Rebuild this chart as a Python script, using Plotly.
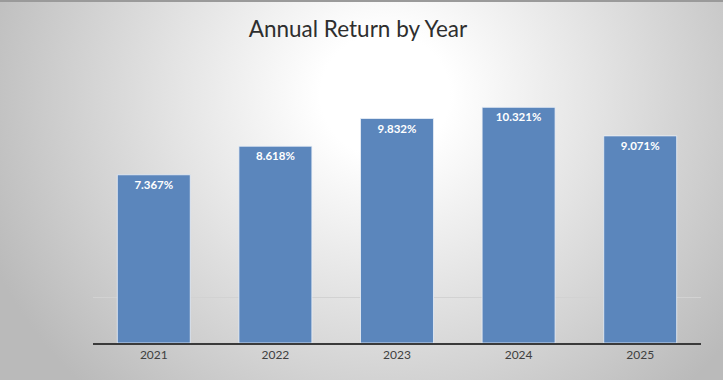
import base64
import plotly.graph_objects as go

years = ["2021", "2022", "2023", "2024", "2025"]
returns = [7.367, 8.618, 9.832, 10.321, 9.071]
labels = ["7.367%", "8.618%", "9.832%", "10.321%", "9.071%"]

W, H = 723, 380
ML, MR, MT, MB = 93, 22, 69, 37
PW, PH = W - ML - MR, H - MT - MB

svg = f'''<svg xmlns="http://www.w3.org/2000/svg" width="{W}" height="{H}">
<defs><radialGradient id="g" gradientUnits="userSpaceOnUse" cx="385" cy="95" r="430"
 gradientTransform="translate(385 95) scale(1 0.95) translate(-385 -95)">
<stop offset="0" stop-color="#ffffff"/><stop offset="0.15" stop-color="#ffffff"/>
<stop offset="0.5" stop-color="#e3e3e3"/><stop offset="1" stop-color="#bababa"/>
</radialGradient></defs>
<rect width="{W}" height="{H}" fill="url(#g)"/>
<line x1="0" y1="1" x2="{W}" y2="1" stroke="#9a9a9a" stroke-width="2"/>
</svg>'''
uri = "data:image/svg+xml;base64," + base64.b64encode(svg.encode()).decode()

fig = go.Figure(go.Bar(
    x=years, y=returns, text=labels,
    textposition="inside", insidetextanchor="end", textangle=0,
    textfont=dict(family="Lato", size=11.5, color="white", weight="bold"),
    marker=dict(color="#5b86bc", line=dict(color="rgba(235,240,248,0.8)", width=1)),
    hoverinfo="skip",
))

fig.update_layout(
    width=W, height=H,
    margin=dict(l=ML, r=MR, t=MT, b=MB),
    paper_bgcolor="#d0d0d0", plot_bgcolor="rgba(0,0,0,0)",
    bargap=0.4, showlegend=False,
    title=dict(text="Annual Return by Year", x=358 / W, xanchor="center",
               y=1 - 29 / H, yanchor="middle",
               font=dict(family="Lato", size=22.5, color="#2e2e2e")),
    images=[dict(source=uri, xref="paper", yref="paper",
                 x=-ML / PW, y=1 + MT / PH, sizex=W / PW, sizey=H / PH,
                 xanchor="left", yanchor="top", sizing="stretch", layer="below")],
    uniformtext=dict(minsize=8, mode="show"),
)
fig.update_xaxes(showline=True, linecolor="#3a3a3a", linewidth=2,
                 tickfont=dict(family="Lato", size=12, color="#404040"),
                 ticks="", showgrid=False)
fig.update_yaxes(range=[0, 12], tickvals=[2], showticklabels=False,
                 showgrid=True, gridcolor="#d2d2d2", gridwidth=1,
                 zeroline=False, showline=False)

fig.write_html("out.html")
